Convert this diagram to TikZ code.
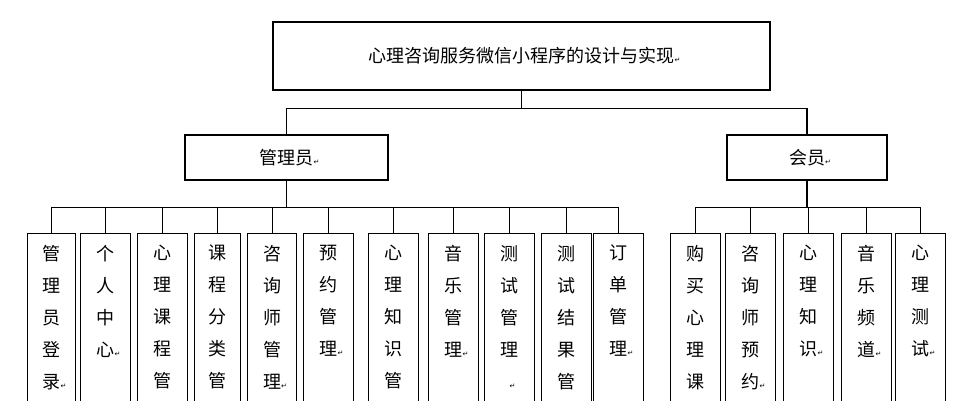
\documentclass[tikz,border=0pt]{standalone}
\usepackage{fontspec}
\newfontfamily\cjk{Noto Sans CJK SC}
\newfontfamily\dv{DejaVu Sans}
\newcommand{\parmk}{\rlap{\dv\fontsize{7}{7}\selectfont ↵}}
\begin{document}
\begin{tikzpicture}[x=1pt,y=-1pt,
  box/.style={draw,line width=1.4pt,inner sep=0pt},
  col/.style={anchor=north,align=center,inner sep=0pt,font=\cjk\fontsize{18}{32}\selectfont},
  ln/.style={line width=1.4pt}]
\useasboundingbox (0,0) rectangle (962,400);
\clip (0,0) rectangle (962,400);
\node[box,minimum width=497pt,minimum height=68pt,font=\cjk\fontsize{18}{20}\selectfont] (top) at (521.5,56) {心理咨询服务微信小程序的设计与实现\parmk};
\node[box,minimum width=203pt,minimum height=45pt,font=\cjk\fontsize{18}{20}\selectfont] (adm) at (286.5,157.5) {管理员\parmk};
\node[box,minimum width=160pt,minimum height=45pt,font=\cjk\fontsize{18}{20}\selectfont] (mem) at (807,157.5) {会员\parmk};
\draw[ln] (top.south) -- ++(0,18) coordinate (j0);
\draw[ln] (j0) -| (adm.north);
\draw[ln] (j0) -| (mem.north);
\foreach \n/\l/\r/\t in {
 a1/27/75/{管\\理\\员\\登\\录\parmk},
 a2/80/130/{个\\人\\中\\心\parmk},
 a3/137/187/{心\\理\\课\\程\\管},
 a4/194/240/{课\\程\\分\\类\\管},
 a5/247/296/{咨\\询\\师\\管\\理\parmk},
 a6/303/353/{预\\约\\管\\理\parmk},
 a7/368/418/{心\\理\\知\\识\\管},
 a8/428/478/{音\\乐\\管\\理\parmk},
 a9/484/534/{测\\试\\管\\理\\\parmk},
 a10/541/591/{测\\试\\结\\果\\管},
 a11/593/643/{订\\单\\管\\理\parmk},
 m1/670/720/{购\\买\\心\\理\\课},
 m2/725/775/{咨\\询\\师\\预\\约\parmk},
 m3/783/833/{心\\理\\知\\识\parmk},
 m4/841/891/{音\\乐\\频\\道\parmk},
 m5/895/945/{心\\理\\测\\试\parmk}}{
  \node[box,anchor=north west,minimum width={\r-\l},minimum height=200pt] (\n) at (\l,233) {};
  \node[col] (\n t) at ([yshift=-12pt]\n.north) {\t};
}
\draw[ln] (adm.south) -- ++(0,27) coordinate (j1);
\foreach \n in {a1,a2,a3,a4,a5,a6,a7,a8,a9,a10,a11} \draw[ln] (j1) -| (\n.north);
\draw[ln] (mem.south) -- ++(0,27) coordinate (j2);
\foreach \n in {m1,m2,m3,m4,m5} \draw[ln] (j2) -| (\n.north);
\end{tikzpicture}
\end{document}
